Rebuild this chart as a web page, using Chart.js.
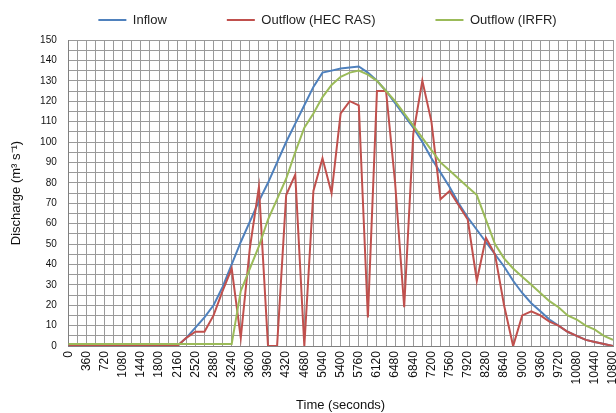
<!DOCTYPE html>
<html>
<head>
<meta charset="utf-8">
<script src="https://cdn.jsdelivr.net/npm/chart.js@4.4.1/dist/chart.umd.min.js"></script>
<style>
html,body{margin:0;padding:0;background:#fff;}
#wrap{width:616px;height:413px;}
</style>
</head>
<body>
<div id="wrap"><canvas id="c" width="616" height="413"></canvas></div>
<script>
// ---- data ----
const timeSeconds = [0,180,360,540,720,900,1080,1260,1440,1620,1800,1980,2160,2340,2520,2700,2880,3060,3240,3420,3600,3780,3960,4140,4320,4500,4680,4860,5040,5220,5400,5580,5760,5940,6120,6300,6480,6660,6840,7020,7200,7380,7560,7740,7920,8100,8280,8460,8640,8820,9000,9180,9360,9540,9720,9900,10080,10260,10440,10620,10800];
const inflow = [0,0,0,0,0,0,0,0,0,0,0,0,0,4,9,14,20,29,40,51,61,71,80,90,100,109,118,127,134,135,136,136.5,137,134,130,125,119,113,107,100,92,85,78,70,63,57,51,45,39,32,26,21,17,13,10,7,5,3,2,1,0];
const outflowHecRas = [0,0,0,0,0,0,0,0,0,0,0,0,0,4,7,7,15,27,38,4,48,78,0,0,74,84,0,76,92,75,114,120,118,14,125,125,80,19,104,130,110,72,76,69,62,32,53,45,20,0,15,17,15,12,10,7,5,3,2,1,0];
const outflowIrfr = [1,1,1,1,1,1,1,1,1,1,1,1,1,1,1,1,1,1,1,27,38,49,62,72,82,95,107,114,122,128,132,134,135,133,130,125,120,114,108,102,96,90,86,82,78,74,62,50,43,38,34,30,26,22,19,15,13,10,8,5,3];
const seriesNames = ['Inflow', 'Outflow (HEC RAS)', 'Outflow (IRFR)'];
const xTickValues = [0,360,720,1080,1440,1800,2160,2520,2880,3240,3600,3960,4320,4680,5040,5400,5760,6120,6480,6840,7200,7560,7920,8280,8640,9000,9360,9720,10080,10440,10800];
const yTickValues = [0,10,20,30,40,50,60,70,80,90,100,110,120,130,140,150];
const xTitle = 'Time (seconds)';
const yTitle = 'Discharge (m³ s⁻¹)';

// ---- chart ----
const FONT = "'Liberation Sans', Arial, sans-serif";
const colors = ['#4f81bd', '#c0504d', '#9bbb59'];
const seriesValues = [inflow, outflowHecRas, outflowIrfr];
const drawOrder = [3, 2, 1];

const datasets = seriesValues.map((vals, i) => ({
  label: seriesNames[i],
  data: vals.map((v, k) => ({x: timeSeconds[k], y: v})),
  borderColor: colors[i],
  backgroundColor: colors[i],
  borderWidth: 2,
  pointRadius: 0,
  tension: 0,
  fill: false,
  order: drawOrder[i]
}));

const legendPlace = {
  id: 'legendPlace',
  afterLayout(chart) {
    const lg = chart.legend;
    if (!lg) return;
    const pad = lg.options.labels.padding;
    lg.top = 20 - 6.5 - pad;
    lg.left += 19;
    lg.right += 19;
  }
};

new Chart(document.getElementById('c'), {
  type: 'line',
  data: {datasets},
  plugins: [legendPlace],
  options: {
    responsive: false,
    animation: false,
    devicePixelRatio: 1,
    layout: {padding: {left: 4, right: 3, top: 0, bottom: 0}},
    plugins: {
      tooltip: {enabled: false},
      legend: {
        position: 'top',
        maxHeight: 40,
        labels: {
          usePointStyle: true,
          pointStyle: 'line',
          pointStyleWidth: 28,
          padding: 60,
          color: '#222',
          font: {family: FONT, size: 13},
          sort: (a, b) => a.datasetIndex - b.datasetIndex
        }
      }
    },
    scales: {
      x: {
        type: 'linear',
        min: 0,
        max: 10800,
        afterFit: (scale) => { scale.paddingRight = 3; },
        grid: {color: '#9a9a9a', lineWidth: 1, drawTicks: false},
        border: {color: '#808080'},
        ticks: {
          stepSize: 180,
          autoSkip: false,
          maxRotation: 90,
          minRotation: 90,
          padding: 5,
          color: '#111',
          font: {family: FONT, size: 12},
          callback: (v) => xTickValues.includes(v) ? String(v) : ''
        },
        title: {
          display: true,
          text: xTitle,
          color: '#111',
          font: {family: FONT, size: 13},
          padding: {top: 8, bottom: 0}
        }
      },
      y: {
        min: 0,
        max: 150,
        grid: {color: '#9a9a9a', lineWidth: 1, drawTicks: false},
        border: {color: '#808080'},
        ticks: {
          stepSize: 5,
          autoSkip: false,
          padding: 11.5,
          color: '#111',
          font: {family: FONT, size: 10},
          callback: (v) => yTickValues.includes(v) ? String(v) : ''
        },
        title: {
          display: true,
          text: yTitle,
          color: '#111',
          font: {family: FONT, size: 13},
          padding: {top: 5, bottom: 4}
        }
      }
    }
  }
});
</script>
</body>
</html>
